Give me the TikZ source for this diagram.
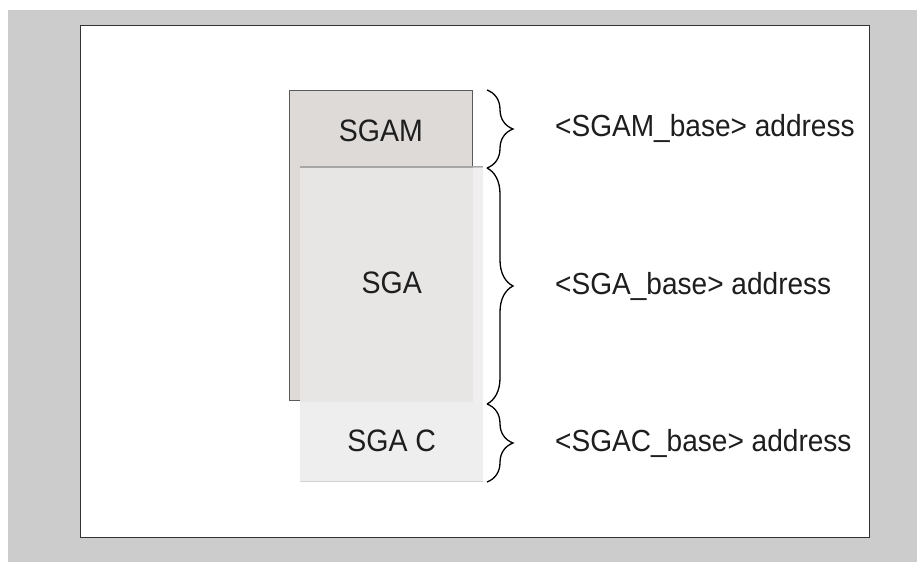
\documentclass[tikz,border=0pt]{standalone}
\usepackage{fontspec}
\setmainfont{Liberation Sans}[FakeStretch=0.92]
\usepackage{tikz}
\usetikzlibrary{positioning, calc, decorations.pathreplacing}

\definecolor{pagegray}{HTML}{CCCCCC}
\definecolor{framegray}{HTML}{333333}
\definecolor{sgamfill}{HTML}{DEDAD8}
\definecolor{sgafill}{HTML}{E8E6E5}
\definecolor{sgacfill}{HTML}{EFEEEE}
\definecolor{edgegray}{HTML}{5A5A5A}
\definecolor{textgray}{HTML}{1E1E1E}

\begin{document}
\begin{tikzpicture}[
  x=1pt, y=-1pt,
  memblock/.style={
    rectangle, anchor=north west, inner sep=0pt,
    minimum width=183pt
  },
  sgamblock/.style={memblock, fill=sgamfill, draw=edgegray, line width=0.8pt},
  sgablock/.style={memblock, fill=sgafill, draw=none},
  sgacblock/.style={memblock, fill=sgacfill, draw=none},
  blocktext/.style={anchor=base, inner sep=0pt, font=\fontsize{31}{34}\selectfont, text=textgray},
  addrlabel/.style={anchor=base west, inner sep=0pt, font=\fontsize{30.5}{34}\selectfont, text=textgray},
  bracket/.style={decorate, decoration={brace, amplitude=26pt}, line width=1.3pt, draw=black}
]
% page and frame
\useasboundingbox (0,0) rectangle (917,562);
\fill[pagegray] (8,10) rectangle (917,562);
\node[rectangle, anchor=north west, inner sep=0pt, minimum width=789pt, minimum height=512pt,
      fill=white, draw=framegray, line width=1pt] (frame) at (80,25) {};

% memory blocks
\node[sgamblock, minimum height=310pt] (sgam) at (289,90) {};
\node[blocktext] (sgamtext) at ($(sgam.north)+(0,51)$) {SGAM};
\node[sgablock, minimum height=235pt] (sga) at (300,167) {};
\draw[gray!70, line width=1.2pt] (sga.north west) -- (sga.north east);
\fill[white, opacity=0.35] ($(sga.north east)+(-10,0)$) rectangle (sga.south east);
\node[blocktext] (sgatext) at ($(sga.north)+(0,126)$) {SGA};
\node[sgacblock, minimum height=79pt] (sgac) at (300,402) {};
\draw[gray!35, line width=1.2pt] (sgac.south west) -- (sgac.south east);
\node[blocktext] (sgactext) at ($(sgac.north)+(0,49)$) {SGA C};

% brace ends
\coordinate (b0) at (487,90);
\coordinate (b1) at (487,168);
\coordinate (b2) at (487,404);
\coordinate (b3) at (487,482);
\draw[bracket] (b0) -- (b1);
\draw[bracket] (b1) -- (b2);
\draw[bracket] (b2) -- (b3);

% address labels
\node[addrlabel] (lsgam) at (555,136) {<SGAM\_base> address};
\node[addrlabel] (lsga) at (555,294) {<SGA\_base> address};
\node[addrlabel] (lsgac) at (555,451) {<SGAC\_base> address};
\end{tikzpicture}
\end{document}
